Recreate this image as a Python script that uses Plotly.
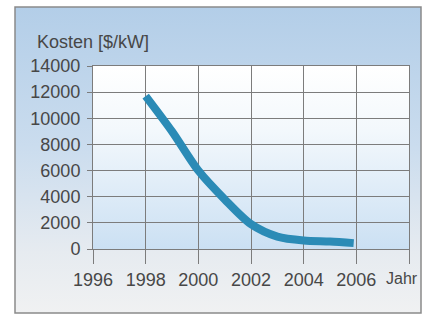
import base64
import plotly.graph_objects as go

# ---- data ----
years = [1998, 1999, 2000, 2001, 2002, 2003, 2004, 2005, 2005.9]
kosten = [11700, 9000, 6000, 3800, 1900, 950, 650, 570, 450]
x_tickvals = [1996, 1998, 2000, 2002, 2004, 2006, 2008]
x_ticktext = ["1996", "1998", "2000", "2002", "2004", "2006", ""]
y_title = "Kosten [$/kW]"
x_title = "Jahr"

W, H = 433, 316
# plot area in pixels
PL, PR, PT, PB = 93, 409, 66, 249
# outer frame in pixels
FL, FR, FT, FB = 15, 421, 7, 313

def svg_grad(stops):
    s = "".join(f'<stop offset="{o}" stop-color="{c}"/>' for o, c in stops)
    svg = ('<svg xmlns="http://www.w3.org/2000/svg" width="100" height="100" '
           'viewBox="0 0 100 100" preserveAspectRatio="none">'
           f'<defs><linearGradient id="g" x1="0" y1="0" x2="0" y2="1">{s}</linearGradient></defs>'
           '<rect x="0" y="0" width="100" height="100" fill="url(#g)"/></svg>')
    return "data:image/svg+xml;base64," + base64.b64encode(svg.encode()).decode()

frame_img = svg_grad([(0, "#b3cee8"), (0.45, "#cadcee"), (0.8, "#e6ebf0"), (1, "#f0f1f2")])
plot_img = svg_grad([(0, "#ffffff"), (0.35, "#f3f8fc"), (1, "#cbe0f3")])

fig = go.Figure()
fig.add_trace(go.Scatter(
    x=years, y=kosten, mode="lines",
    line=dict(color="#2b8bb6", width=8, shape="spline", smoothing=0.8),
    hoverinfo="skip", showlegend=False,
))

grid = "#7c7c7c"
font = dict(family="Liberation Sans, Arial, sans-serif", size=18, color="#474747")
font_jahr = dict(family="Liberation Sans, Arial, sans-serif", size=16, color="#474747")

fig.update_layout(
    width=W, height=H,
    margin=dict(l=0, r=0, t=0, b=0, autoexpand=False),
    paper_bgcolor="white",
    plot_bgcolor="rgba(0,0,0,0)",
    font=font,
    showlegend=False,
    xaxis=dict(
        domain=[PL / W, PR / W], range=[1996, 2008], automargin=False,
        tickmode="array", tickvals=x_tickvals, ticktext=x_ticktext,
        ticks="outside", ticklen=14, tickcolor=grid, tickwidth=1,
        showgrid=True, gridcolor=grid, gridwidth=1,
        showline=True, mirror=True, linecolor=grid, linewidth=1,
        zeroline=False, tickfont=font, fixedrange=True,
    ),
    yaxis=dict(
        domain=[1 - PB / H, 1 - PT / H], range=[0, 14000], automargin=False,
        tick0=0, dtick=2000, tickformat="d", ticklabelstandoff=3,
        ticks="outside", ticklen=5, tickcolor=grid, tickwidth=1,
        showgrid=True, gridcolor=grid, gridwidth=1,
        showline=True, mirror=True, linecolor=grid, linewidth=1,
        zeroline=False, tickfont=font, fixedrange=True,
    ),
    images=[
        dict(source=frame_img, xref="paper", yref="paper",
             x=FL / W, y=1 - FT / H, sizex=(FR - FL) / W, sizey=(FB - FT) / H,
             xanchor="left", yanchor="top", sizing="stretch", layer="below"),
        dict(source=plot_img, xref="x", yref="y",
             x=1996, y=14000, sizex=12, sizey=14000,
             xanchor="left", yanchor="top", sizing="stretch", layer="below"),
    ],
    shapes=[
        dict(type="rect", xref="paper", yref="paper",
             x0=FL / W, x1=FR / W, y0=1 - FB / H, y1=1 - FT / H,
             line=dict(color="#8a8a8a", width=1.5), fillcolor="rgba(0,0,0,0)", layer="below"),
    ],
    annotations=[
        dict(text=y_title, xref="paper", yref="paper", x=35 / W, y=1 - 42 / H,
             xanchor="left", yanchor="middle", showarrow=False, font=font),
        dict(text=x_title, xref="x", yref="paper", x=2008, y=1 - 278 / H,
             xanchor="center", yanchor="middle", xshift=-7, showarrow=False, font=font_jahr),
    ],
)

fig.write_html(
    "out.html",
    config={"displayModeBar": False, "staticPlot": True},
    post_script="document.body.style.margin='0';document.body.style.overflow='hidden';",
)
